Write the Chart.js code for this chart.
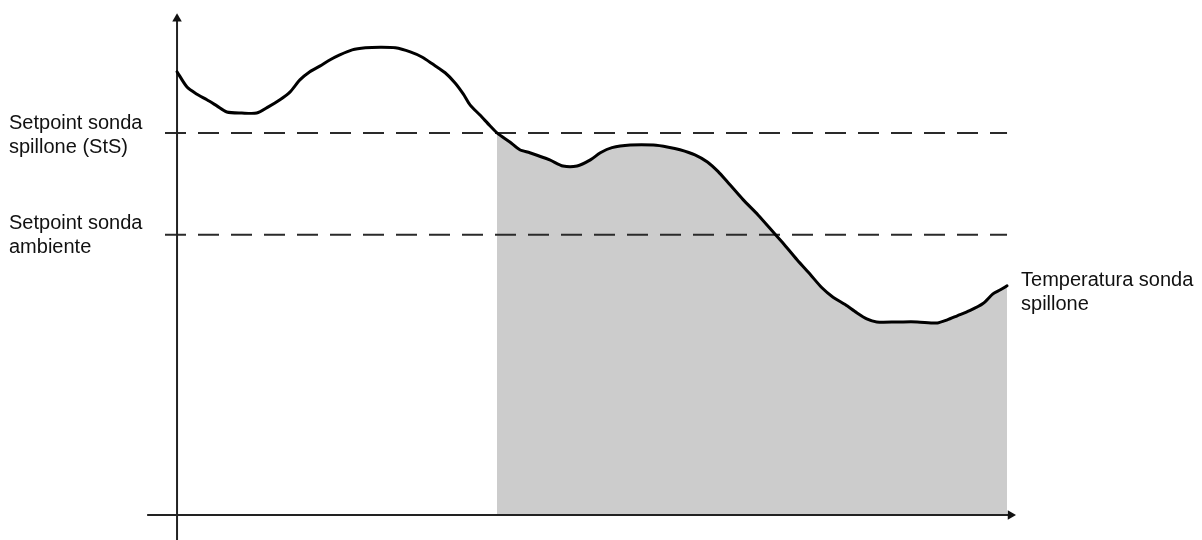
<!DOCTYPE html>
<html>
<head>
<meta charset="utf-8">
<title>Temperatura sonda spillone</title>
<script src="https://cdn.jsdelivr.net/npm/chart.js@4/dist/chart.umd.min.js"></script>
<style>
  html, body { margin: 0; padding: 0; background: #fff; }
  #wrap { position: relative; width: 1202px; height: 540px; }
</style>
</head>
<body>
<div id="wrap"><canvas id="chart" width="1202" height="540"></canvas></div>
<script>
// time (arbitrary units, 0 = origin, 100 = end of the trace)
const timeValues = [
  0, 1.2, 2.4, 3.6, 4.8, 6.0, 7.8, 9.6, 11.0, 12.4, 13.6, 14.8, 16.0, 17.2, 18.4,
  19.6, 21.1, 22.7, 24.5, 26.3, 28.1, 29.5, 30.8, 32.3, 33.5, 34.5, 35.3, 36.5,
  37.7, 38.55, 40.1, 41.3, 42.5, 44.9, 46.5, 48.2, 49.8, 51.0, 52.4, 54.6, 57.4,
  59.2, 60.6, 62.4, 63.9, 65.2, 66.3, 68.2, 70.0, 71.8, 73.0, 74.7, 76.3, 77.7,
  79.0, 80.5, 81.9, 83.1, 84.3, 86.8, 89.2, 91.6, 92.8, 94.0, 95.5, 97.1, 98.3,
  99.2, 100
];

// probe temperature
const probeTemps = [
  87.0, 84.0, 82.6, 81.5, 80.3, 79.1, 78.9, 78.9, 80.1, 81.5, 83.0, 85.4, 87.0,
  88.1, 89.3, 90.3, 91.3, 91.7, 91.8, 91.7, 90.9, 89.9, 88.5, 86.8, 84.8, 82.6,
  80.5, 78.5, 76.4, 75.0, 73.2, 71.7, 71.1, 69.7, 68.5, 68.5, 69.7, 71.1, 72.1,
  72.6, 72.6, 72.2, 71.7, 70.7, 69.3, 67.4, 65.4, 61.9, 58.9, 55.6, 53.4, 50.1,
  47.2, 44.6, 42.8, 41.3, 39.7, 38.5, 37.9, 37.9, 37.9, 37.7, 38.3, 39.1, 40.1,
  41.5, 43.4, 44.2, 45.0
];

// setpoints
const setpointProbe = 75;   // Setpoint sonda spillone (StS)
const setpointRoom = 55;    // Setpoint sonda ambiente
const fillFrom = 38.55;     // trace reaches StS here

// axis extents and view window
const xAxisSpan = [-3.6, 100.8];
const yAxisSpan = [-4.9, 98.0];
const xView = [-21.33, 123.49];
const yView = [-4.9, 101.08];

// label texts
const probeLabel = ["Setpoint sonda", "spillone (StS)"];
const roomLabel = ["Setpoint sonda", "ambiente"];
const traceLabel = ["Temperatura sonda", "spillone"];

const tracePoints = timeValues.map((t, i) => ({ x: t, y: probeTemps[i] }));
const shadedPoints = tracePoints.filter(p => p.x >= fillFrom);
const lastPoint = tracePoints[tracePoints.length - 1];

// writes the labels next to the setpoint lines and the trace end
const labelPlugin = {
  id: "labels",
  afterDraw(chart) {
    const ctx = chart.ctx;
    const xs = chart.scales.x;
    const ys = chart.scales.y;
    const left = chart.chartArea.left + 9;
    ctx.save();
    ctx.font = '20px "Liberation Sans", Arial, sans-serif';
    ctx.fillStyle = "#111";
    ctx.textBaseline = "alphabetic";

    let y = ys.getPixelForValue(setpointProbe);
    ctx.fillText(probeLabel[0], left, y - 4);
    ctx.fillText(probeLabel[1], left, y + 20);

    y = ys.getPixelForValue(setpointRoom);
    ctx.fillText(roomLabel[0], left, y - 6);
    ctx.fillText(roomLabel[1], left, y + 18);

    const rx = xs.getPixelForValue(lastPoint.x) + 14;
    const ry = ys.getPixelForValue(lastPoint.y);
    ctx.fillText(traceLabel[0], rx, ry);
    ctx.fillText(traceLabel[1], rx, ry + 24);
    ctx.restore();
  }
};

const dashedLine = (value) => ({
  data: [{ x: -1.45, y: value }, { x: 100, y: value }],
  borderColor: "#2a2a2a",
  borderWidth: 2,
  borderDash: [21, 12],
  pointRadius: 0,
  fill: false,
  order: 4
});

const ctx = document.getElementById("chart").getContext("2d");
new Chart(ctx, {
  type: "line",
  data: {
    datasets: [
      // probe temperature trace
      {
        data: tracePoints,
        borderColor: "#000",
        borderWidth: 3,
        borderJoinStyle: "round",
        borderCapStyle: "round",
        tension: 0.25,
        pointRadius: 0,
        fill: false,
        order: 1
      },
      // shaded area once StS is reached
      {
        data: shadedPoints,
        borderWidth: 0,
        borderColor: "rgba(0,0,0,0)",
        backgroundColor: "#cccccc",
        tension: 0.25,
        pointRadius: 0,
        fill: "origin",
        order: 6
      },
      dashedLine(setpointProbe),
      dashedLine(setpointRoom),
      // x axis with arrow
      {
        data: [{ x: xAxisSpan[0], y: 0 }, { x: xAxisSpan[1], y: 0 }],
        borderColor: "#222",
        borderWidth: 2,
        pointRadius: 0,
        fill: false,
        order: 3
      },
      // y axis with arrow
      {
        data: [{ x: 0, y: yAxisSpan[0] }, { x: 0, y: yAxisSpan[1] }],
        borderColor: "#222",
        borderWidth: 2,
        pointRadius: 0,
        fill: false,
        order: 3
      },
      {
        data: [{ x: 100.42, y: 0 }],
        showLine: false,
        pointStyle: "triangle",
        rotation: 90,
        pointRadius: 5.5,
        pointBorderWidth: 0,
        pointBackgroundColor: "#111",
        order: 2
      },
      {
        data: [{ x: 0, y: 97.4 }],
        showLine: false,
        pointStyle: "triangle",
        rotation: 0,
        pointRadius: 5.5,
        pointBorderWidth: 0,
        pointBackgroundColor: "#111",
        order: 2
      }
    ]
  },
  options: {
    responsive: false,
    animation: false,
    events: [],
    layout: { padding: 0, autoPadding: false },
    plugins: {
      legend: { display: false },
      tooltip: { enabled: false }
    },
    scales: {
      x: { type: "linear", display: false, min: xView[0], max: xView[1] },
      y: { type: "linear", display: false, min: yView[0], max: yView[1] }
    }
  },
  plugins: [labelPlugin]
});
</script>
</body>
</html>
